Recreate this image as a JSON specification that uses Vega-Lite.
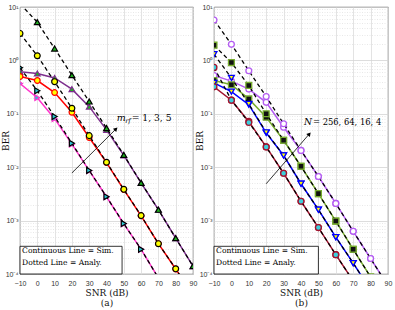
{
  "$schema": "https://vega.github.io/schema/vega-lite/v6.json",
  "background": "white",
  "padding": {"left": 0, "top": 2, "right": 0, "bottom": 0},
  "bounds": "flush",
  "spacing": 21,
  "resolve": {"scale": {"stroke": "independent", "fill": "independent", "shape": "independent"}},
  "config": {
    "view": {"stroke": "#262626", "strokeWidth": 0.8},
    "axis": {
      "labelFont": "Liberation Sans", "labelFontSize": 7, "labelColor": "#333333",
      "titleFont": "DejaVu Serif", "titleFontSize": 9, "titleFontWeight": "normal", "titleColor": "#111111",
      "domain": false, "ticks": false, "gridWidth": 0.8
    }
  },
  "hconcat": [
    {
      "width": 173, "height": 267,
      "data": {"values": [
        {"series": "s3", "type": "analy", "snr": -10, "ber": 11.5},
        {"series": "s3", "type": "analy", "snr": 0, "ber": 5.2},
        {"series": "s3", "type": "analy", "snr": 10, "ber": 1.67},
        {"series": "s3", "type": "analy", "snr": 20, "ber": 0.53},
        {"series": "s3", "type": "analy", "snr": 30, "ber": 0.17},
        {"series": "s3", "type": "analy", "snr": 40, "ber": 0.054},
        {"series": "s3", "type": "analy", "snr": 50, "ber": 0.017},
        {"series": "s3", "type": "analy", "snr": 60, "ber": 0.0051},
        {"series": "s3", "type": "analy", "snr": 70, "ber": 0.0016},
        {"series": "s3", "type": "analy", "snr": 80, "ber": 0.00047},
        {"series": "s3", "type": "analy", "snr": 90, "ber": 0.00014},
        {"series": "s3", "type": "sim", "snr": -10, "ber": 0.61},
        {"series": "s3", "type": "sim", "snr": 0, "ber": 0.57},
        {"series": "s3", "type": "sim", "snr": 10, "ber": 0.47},
        {"series": "s3", "type": "sim", "snr": 20, "ber": 0.29},
        {"series": "s3", "type": "sim", "snr": 30, "ber": 0.136},
        {"series": "s3", "type": "sim", "snr": 40, "ber": 0.05},
        {"series": "s3", "type": "sim", "snr": 50, "ber": 0.0166},
        {"series": "s3", "type": "sim", "snr": 60, "ber": 0.0051},
        {"series": "s3", "type": "sim", "snr": 70, "ber": 0.0016},
        {"series": "s3", "type": "sim", "snr": 80, "ber": 0.00047},
        {"series": "s3", "type": "sim", "snr": 90, "ber": 0.00014},
        {"series": "s2", "type": "analy", "snr": -10, "ber": 3.2},
        {"series": "s2", "type": "analy", "snr": 0, "ber": 1.22},
        {"series": "s2", "type": "analy", "snr": 10, "ber": 0.40},
        {"series": "s2", "type": "analy", "snr": 20, "ber": 0.127},
        {"series": "s2", "type": "analy", "snr": 30, "ber": 0.039},
        {"series": "s2", "type": "analy", "snr": 40, "ber": 0.0124},
        {"series": "s2", "type": "analy", "snr": 50, "ber": 0.00385},
        {"series": "s2", "type": "analy", "snr": 60, "ber": 0.00124},
        {"series": "s2", "type": "analy", "snr": 70, "ber": 0.00037},
        {"series": "s2", "type": "analy", "snr": 80, "ber": 0.000125},
        {"series": "s2", "type": "analy", "snr": 90, "ber": 0.00004},
        {"series": "s2", "type": "sim", "snr": -10, "ber": 0.50},
        {"series": "s2", "type": "sim", "snr": 0, "ber": 0.42},
        {"series": "s2", "type": "sim", "snr": 10, "ber": 0.25},
        {"series": "s2", "type": "sim", "snr": 20, "ber": 0.107},
        {"series": "s2", "type": "sim", "snr": 30, "ber": 0.036},
        {"series": "s2", "type": "sim", "snr": 40, "ber": 0.0122},
        {"series": "s2", "type": "sim", "snr": 50, "ber": 0.0038},
        {"series": "s2", "type": "sim", "snr": 60, "ber": 0.00123},
        {"series": "s2", "type": "sim", "snr": 70, "ber": 0.00037},
        {"series": "s2", "type": "sim", "snr": 80, "ber": 0.000124},
        {"series": "s2", "type": "sim", "snr": 90, "ber": 0.00004},
        {"series": "s1", "type": "analy", "snr": -10, "ber": 0.73},
        {"series": "s1", "type": "analy", "snr": 0, "ber": 0.27},
        {"series": "s1", "type": "analy", "snr": 10, "ber": 0.089},
        {"series": "s1", "type": "analy", "snr": 20, "ber": 0.028},
        {"series": "s1", "type": "analy", "snr": 30, "ber": 0.0087},
        {"series": "s1", "type": "analy", "snr": 40, "ber": 0.0028},
        {"series": "s1", "type": "analy", "snr": 50, "ber": 0.00088},
        {"series": "s1", "type": "analy", "snr": 60, "ber": 0.00029},
        {"series": "s1", "type": "analy", "snr": 70, "ber": 0.000084},
        {"series": "s1", "type": "sim", "snr": -10, "ber": 0.37},
        {"series": "s1", "type": "sim", "snr": 0, "ber": 0.20},
        {"series": "s1", "type": "sim", "snr": 10, "ber": 0.081},
        {"series": "s1", "type": "sim", "snr": 20, "ber": 0.027},
        {"series": "s1", "type": "sim", "snr": 30, "ber": 0.0086},
        {"series": "s1", "type": "sim", "snr": 40, "ber": 0.0028},
        {"series": "s1", "type": "sim", "snr": 50, "ber": 0.00087},
        {"series": "s1", "type": "sim", "snr": 60, "ber": 0.00029},
        {"series": "s1", "type": "sim", "snr": 70, "ber": 0.000084}
      ]},
      "encoding": {
        "x": {"field": "snr", "type": "quantitative", "scale": {"domain": [-10, 90], "nice": false, "zero": false},
          "axis": {"values": [-10, 0, 10, 20, 30, 40, 50, 60, 70, 80, 90], "labelFlush": false, "labelPadding": 5,
            "title": ["SNR (dB)", "(a)"], "titlePadding": 2, "titleLineHeight": 10.5, "gridColor": "#dcdcdc"}},
        "y": {"field": "ber", "type": "quantitative", "scale": {"type": "log", "domain": [0.0001, 10], "nice": false},
          "axis": {
            "values": [0.0001,0.0002,0.0003,0.0004,0.0005,0.0006,0.0007,0.0008,0.0009,0.001,0.002,0.003,0.004,0.005,0.006,0.007,0.008,0.009,0.01,0.02,0.03,0.04,0.05,0.06,0.07,0.08,0.09,0.1,0.2,0.3,0.4,0.5,0.6,0.7,0.8,0.9,1,2,3,4,5,6,7,8,9,10],
            "labelExpr": "abs(log(datum.value)/LN10 - round(log(datum.value)/LN10)) < 0.01 ? '10' + ['⁻⁴','⁻³','⁻²','⁻¹','⁰','¹'][round(log(datum.value)/LN10)+4] : ''",
            "labelOverlap": false, "labelPadding": 2,
            "title": "BER", "titleX": -15, "titleAngle": -90, "titleBaseline": "middle", "titleAlign": "center",
            "gridDash": {"condition": {"test": "abs(log(datum.value)/LN10 - round(log(datum.value)/LN10)) > 0.01", "value": [1, 1.5]}, "value": []},
            "gridColor": {"condition": {"test": "abs(log(datum.value)/LN10 - round(log(datum.value)/LN10)) > 0.01", "value": "#e2e2e2"}, "value": "#d4d4d4"}
          }}
      },
      "layer": [
        {"transform": [{"filter": "datum.type == 'sim'"}],
         "mark": {"type": "line", "strokeWidth": 1.5, "clip": true},
         "encoding": {"stroke": {"field": "series", "type": "nominal", "legend": null,
           "scale": {"domain": ["s1", "s2", "s3"], "range": ["#FF33CC", "#FF0000", "#7E2F8E"]}}}},
        {"transform": [{"filter": "datum.type == 'sim'"}],
         "mark": {"type": "point", "filled": true, "opacity": 1, "size": 32, "strokeWidth": 1.2, "clip": true},
         "encoding": {
           "stroke": {"field": "series", "type": "nominal", "legend": null},
           "fill": {"field": "series", "type": "nominal", "legend": null,
             "scale": {"domain": ["s1", "s2", "s3"], "range": ["#2EC4D4", "#FFFF00", "#1FB01F"]}},
           "shape": {"field": "series", "type": "nominal", "legend": null,
             "scale": {"domain": ["s1", "s2", "s3"], "range": ["triangle-right", "circle", "triangle-up"]}}}},
        {"transform": [{"filter": "datum.type == 'analy'"}],
         "mark": {"type": "line", "stroke": "black", "strokeDash": [4, 3], "strokeWidth": 1.3, "clip": true},
         "encoding": {"detail": {"field": "series", "type": "nominal"}}},
        {"transform": [{"filter": "datum.type == 'analy'"}],
         "mark": {"type": "point", "filled": true, "opacity": 1, "size": 34, "strokeWidth": 1.2, "stroke": "black", "clip": true},
         "encoding": {
           "fill": {"field": "series", "type": "nominal", "legend": null},
           "shape": {"field": "series", "type": "nominal", "legend": null}}},
        {"data": {"values": [{"snr": -10, "snr2": 49, "ber": 0.0001, "ber2": 0.00033}]},
         "mark": {"type": "rect", "fill": "white", "stroke": "black", "strokeWidth": 0.8},
         "encoding": {"x2": {"field": "snr2"}, "y2": {"field": "ber2"}}},
        {"data": {"values": [{"snr": -8.8, "ber": 0.000269, "label": "Continuous Line = Sim."}, {"snr": -8.8, "ber": 0.000163, "label": "Dotted Line = Analy."}]},
         "mark": {"type": "text", "align": "left", "baseline": "middle", "font": "DejaVu Serif", "fontSize": 7.6, "color": "black"},
         "encoding": {"text": {"field": "label"}}},
        {"data": {"values": [{"snr": 20, "ber": 0.0078}, {"snr": 45.5, "ber": 0.052}]},
         "mark": {"type": "line", "stroke": "black", "strokeWidth": 0.8},
         "encoding": {}},
        {"data": {"values": [{"snr": 45.5, "ber": 0.052}]},
         "mark": {"type": "point", "shape": "triangle-up", "filled": true, "opacity": 1, "color": "black", "size": 22, "angle": 45},
         "encoding": {}},
        {"data": {"values": [{"snr": 45.9, "ber": 0.082, "label": "m"}]},
         "mark": {"type": "text", "align": "left", "baseline": "middle", "font": "DejaVu Serif", "fontStyle": "italic", "fontSize": 9.5, "color": "black"},
         "encoding": {"text": {"field": "label"}}},
        {"data": {"values": [{"snr": 45.9, "ber": 0.082, "label": "rf"}]},
         "mark": {"type": "text", "align": "left", "baseline": "middle", "font": "DejaVu Serif", "fontStyle": "italic", "fontSize": 6.5, "dx": 8.5, "dy": 2.5, "color": "black"},
         "encoding": {"text": {"field": "label"}}},
        {"data": {"values": [{"snr": 45.9, "ber": 0.082, "label": "= 1, 3, 5"}]},
         "mark": {"type": "text", "align": "left", "baseline": "middle", "font": "DejaVu Serif", "fontSize": 9.2, "dx": 15, "color": "black"},
         "encoding": {"text": {"field": "label"}}}
      ]
    },
    {
      "width": 174, "height": 267,
      "data": {"values": [
        {"series": "n256", "type": "analy", "snr": -10, "ber": 5.7},
        {"series": "n256", "type": "analy", "snr": 0, "ber": 2.0},
        {"series": "n256", "type": "analy", "snr": 10, "ber": 0.64},
        {"series": "n256", "type": "analy", "snr": 20, "ber": 0.21},
        {"series": "n256", "type": "analy", "snr": 30, "ber": 0.065},
        {"series": "n256", "type": "analy", "snr": 40, "ber": 0.0206},
        {"series": "n256", "type": "analy", "snr": 50, "ber": 0.0067},
        {"series": "n256", "type": "analy", "snr": 60, "ber": 0.0021},
        {"series": "n256", "type": "analy", "snr": 70, "ber": 0.00063},
        {"series": "n256", "type": "analy", "snr": 80, "ber": 0.000195},
        {"series": "n256", "type": "analy", "snr": 90, "ber": 0.00006},
        {"series": "n256", "type": "sim", "snr": -10, "ber": 0.52},
        {"series": "n256", "type": "sim", "snr": 0, "ber": 0.41},
        {"series": "n256", "type": "sim", "snr": 10, "ber": 0.29},
        {"series": "n256", "type": "sim", "snr": 20, "ber": 0.164},
        {"series": "n256", "type": "sim", "snr": 30, "ber": 0.056},
        {"series": "n256", "type": "sim", "snr": 40, "ber": 0.0206},
        {"series": "n256", "type": "sim", "snr": 50, "ber": 0.0067},
        {"series": "n256", "type": "sim", "snr": 60, "ber": 0.0021},
        {"series": "n256", "type": "sim", "snr": 70, "ber": 0.00063},
        {"series": "n256", "type": "sim", "snr": 80, "ber": 0.000195},
        {"series": "n256", "type": "sim", "snr": 90, "ber": 0.00006},
        {"series": "n64", "type": "analy", "snr": -10, "ber": 1.93},
        {"series": "n64", "type": "analy", "snr": 0, "ber": 0.91},
        {"series": "n64", "type": "analy", "snr": 10, "ber": 0.34},
        {"series": "n64", "type": "analy", "snr": 20, "ber": 0.10},
        {"series": "n64", "type": "analy", "snr": 30, "ber": 0.032},
        {"series": "n64", "type": "analy", "snr": 40, "ber": 0.0104},
        {"series": "n64", "type": "analy", "snr": 50, "ber": 0.0032},
        {"series": "n64", "type": "analy", "snr": 60, "ber": 0.00098},
        {"series": "n64", "type": "analy", "snr": 70, "ber": 0.00029},
        {"series": "n64", "type": "analy", "snr": 80, "ber": 0.000088},
        {"series": "n64", "type": "sim", "snr": -10, "ber": 0.42},
        {"series": "n64", "type": "sim", "snr": 0, "ber": 0.35},
        {"series": "n64", "type": "sim", "snr": 10, "ber": 0.19},
        {"series": "n64", "type": "sim", "snr": 20, "ber": 0.086},
        {"series": "n64", "type": "sim", "snr": 30, "ber": 0.032},
        {"series": "n64", "type": "sim", "snr": 40, "ber": 0.0104},
        {"series": "n64", "type": "sim", "snr": 50, "ber": 0.0032},
        {"series": "n64", "type": "sim", "snr": 60, "ber": 0.00098},
        {"series": "n64", "type": "sim", "snr": 70, "ber": 0.00029},
        {"series": "n64", "type": "sim", "snr": 80, "ber": 0.000088},
        {"series": "n16", "type": "analy", "snr": -10, "ber": 1.31},
        {"series": "n16", "type": "analy", "snr": 0, "ber": 0.47},
        {"series": "n16", "type": "analy", "snr": 10, "ber": 0.153},
        {"series": "n16", "type": "analy", "snr": 20, "ber": 0.045},
        {"series": "n16", "type": "analy", "snr": 30, "ber": 0.0166},
        {"series": "n16", "type": "analy", "snr": 40, "ber": 0.0049},
        {"series": "n16", "type": "analy", "snr": 50, "ber": 0.0016},
        {"series": "n16", "type": "analy", "snr": 60, "ber": 0.00049},
        {"series": "n16", "type": "analy", "snr": 70, "ber": 0.00016},
        {"series": "n16", "type": "analy", "snr": 80, "ber": 0.00005},
        {"series": "n16", "type": "sim", "snr": -10, "ber": 0.38},
        {"series": "n16", "type": "sim", "snr": 0, "ber": 0.26},
        {"series": "n16", "type": "sim", "snr": 10, "ber": 0.148},
        {"series": "n16", "type": "sim", "snr": 20, "ber": 0.044},
        {"series": "n16", "type": "sim", "snr": 30, "ber": 0.0166},
        {"series": "n16", "type": "sim", "snr": 40, "ber": 0.0049},
        {"series": "n16", "type": "sim", "snr": 50, "ber": 0.0016},
        {"series": "n16", "type": "sim", "snr": 60, "ber": 0.00049},
        {"series": "n16", "type": "sim", "snr": 70, "ber": 0.00016},
        {"series": "n16", "type": "sim", "snr": 80, "ber": 0.00005},
        {"series": "n4", "type": "analy", "snr": -10, "ber": 0.74},
        {"series": "n4", "type": "analy", "snr": 0, "ber": 0.18},
        {"series": "n4", "type": "analy", "snr": 10, "ber": 0.069},
        {"series": "n4", "type": "analy", "snr": 20, "ber": 0.024},
        {"series": "n4", "type": "analy", "snr": 30, "ber": 0.0077},
        {"series": "n4", "type": "analy", "snr": 40, "ber": 0.0023},
        {"series": "n4", "type": "analy", "snr": 50, "ber": 0.00074},
        {"series": "n4", "type": "analy", "snr": 60, "ber": 0.00023},
        {"series": "n4", "type": "analy", "snr": 70, "ber": 0.000074},
        {"series": "n4", "type": "sim", "snr": -10, "ber": 0.32},
        {"series": "n4", "type": "sim", "snr": 0, "ber": 0.18},
        {"series": "n4", "type": "sim", "snr": 10, "ber": 0.072},
        {"series": "n4", "type": "sim", "snr": 20, "ber": 0.024},
        {"series": "n4", "type": "sim", "snr": 30, "ber": 0.0077},
        {"series": "n4", "type": "sim", "snr": 40, "ber": 0.0023},
        {"series": "n4", "type": "sim", "snr": 50, "ber": 0.00074},
        {"series": "n4", "type": "sim", "snr": 60, "ber": 0.00023},
        {"series": "n4", "type": "sim", "snr": 70, "ber": 0.000074}
      ]},
      "encoding": {
        "x": {"field": "snr", "type": "quantitative", "scale": {"domain": [-10, 90], "nice": false, "zero": false},
          "axis": {"values": [-10, 0, 10, 20, 30, 40, 50, 60, 70, 80, 90], "labelFlush": false, "labelPadding": 5,
            "title": ["SNR (dB)", "(b)"], "titlePadding": 2, "titleLineHeight": 10.5, "gridColor": "#dcdcdc"}},
        "y": {"field": "ber", "type": "quantitative", "scale": {"type": "log", "domain": [0.0001, 10], "nice": false},
          "axis": {
            "values": [0.0001,0.0002,0.0003,0.0004,0.0005,0.0006,0.0007,0.0008,0.0009,0.001,0.002,0.003,0.004,0.005,0.006,0.007,0.008,0.009,0.01,0.02,0.03,0.04,0.05,0.06,0.07,0.08,0.09,0.1,0.2,0.3,0.4,0.5,0.6,0.7,0.8,0.9,1,2,3,4,5,6,7,8,9,10],
            "labelExpr": "abs(log(datum.value)/LN10 - round(log(datum.value)/LN10)) < 0.01 ? '10' + ['⁻⁴','⁻³','⁻²','⁻¹','⁰','¹'][round(log(datum.value)/LN10)+4] : ''",
            "labelOverlap": false, "labelPadding": 2,
            "title": "BER", "titleX": -15, "titleAngle": -90, "titleBaseline": "middle", "titleAlign": "center",
            "gridDash": {"condition": {"test": "abs(log(datum.value)/LN10 - round(log(datum.value)/LN10)) > 0.01", "value": [1, 1.5]}, "value": []},
            "gridColor": {"condition": {"test": "abs(log(datum.value)/LN10 - round(log(datum.value)/LN10)) > 0.01", "value": "#e2e2e2"}, "value": "#d4d4d4"}
          }}
      },
      "layer": [
        {"transform": [{"filter": "datum.type == 'sim'"}],
         "mark": {"type": "line", "strokeWidth": 1.5, "clip": true},
         "encoding": {"stroke": {"field": "series", "type": "nominal", "legend": null,
           "scale": {"domain": ["n4", "n16", "n64", "n256"], "range": ["#A2142F", "#0000FF", "#77AC30", "#B45CF2"]}}}},
        {"transform": [{"filter": "datum.type == 'sim'"}],
         "mark": {"type": "point", "filled": true, "opacity": 1, "size": 34, "strokeWidth": 1.3, "clip": true},
         "encoding": {
           "stroke": {"field": "series", "type": "nominal", "legend": null},
           "fill": {"field": "series", "type": "nominal", "legend": null,
             "scale": {"domain": ["n4", "n16", "n64", "n256"], "range": ["#3CCFDC", "#FFFF00", "#111111", "#FFFFFF"]}},
           "shape": {"field": "series", "type": "nominal", "legend": null,
             "scale": {"domain": ["n4", "n16", "n64", "n256"], "range": ["circle", "triangle-down", "square", "circle"]}}}},
        {"transform": [{"filter": "datum.type == 'analy'"}],
         "mark": {"type": "line", "stroke": "black", "strokeDash": [4, 3], "strokeWidth": 1.3, "clip": true},
         "encoding": {"detail": {"field": "series", "type": "nominal"}}},
        {"transform": [{"filter": "datum.type == 'analy'"}],
         "mark": {"type": "point", "filled": true, "opacity": 1, "size": 34, "strokeWidth": 1.3, "clip": true},
         "encoding": {
           "stroke": {"field": "series", "type": "nominal", "legend": null},
           "fill": {"field": "series", "type": "nominal", "legend": null},
           "shape": {"field": "series", "type": "nominal", "legend": null}}},
        {"data": {"values": [{"snr": -10, "snr2": 50, "ber": 0.0001, "ber2": 0.00033}]},
         "mark": {"type": "rect", "fill": "white", "stroke": "black", "strokeWidth": 0.8},
         "encoding": {"x2": {"field": "snr2"}, "y2": {"field": "ber2"}}},
        {"data": {"values": [{"snr": -8.8, "ber": 0.000269, "label": "Continuous Line = Sim."}, {"snr": -8.8, "ber": 0.000163, "label": "Dotted Line = Analy."}]},
         "mark": {"type": "text", "align": "left", "baseline": "middle", "font": "DejaVu Serif", "fontSize": 7.6, "color": "black"},
         "encoding": {"text": {"field": "label"}}},
        {"data": {"values": [{"snr": 20, "ber": 0.0049}, {"snr": 44.8, "ber": 0.042}]},
         "mark": {"type": "line", "stroke": "black", "strokeWidth": 0.8},
         "encoding": {}},
        {"data": {"values": [{"snr": 44.8, "ber": 0.042}]},
         "mark": {"type": "point", "shape": "triangle-up", "filled": true, "opacity": 1, "color": "black", "size": 22, "angle": 41},
         "encoding": {}},
        {"data": {"values": [{"snr": 41.7, "ber": 0.0693, "label": "N"}]},
         "mark": {"type": "text", "align": "left", "baseline": "middle", "font": "DejaVu Serif", "fontStyle": "italic", "fontSize": 9.2, "color": "black"},
         "encoding": {"text": {"field": "label"}}},
        {"data": {"values": [{"snr": 41.7, "ber": 0.0693, "label": "= 256, 64, 16, 4"}]},
         "mark": {"type": "text", "align": "left", "baseline": "middle", "font": "DejaVu Serif", "fontSize": 8.4, "dx": 9, "color": "black"},
         "encoding": {"text": {"field": "label"}}}
      ]
    }
  ]
}
